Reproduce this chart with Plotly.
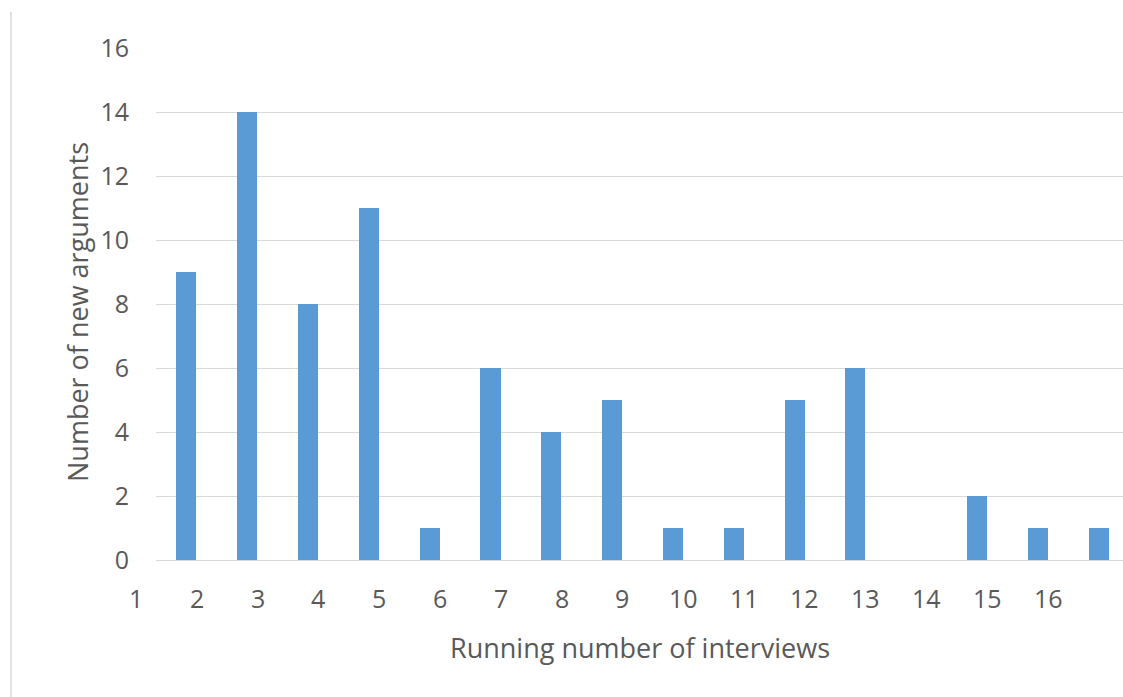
import plotly.graph_objects as go

# Interviews 2..17 and the count of new arguments raised in each
interviews = list(range(2, 18))
new_arguments = [9, 14, 8, 11, 1, 6, 4, 5, 1, 1, 5, 6, 0, 2, 1, 1]

# Category labels printed under the axis
x_labels = [str(i) for i in range(1, 17)]
y_ticks = list(range(0, 17, 2))

FONT = "Open Sans"
TEXT_GREY = "#595959"
GRID_GREY = "#d9d9d9"
BAR_BLUE = "#5b9bd5"
FONT_SIZE = 25
TITLE_SIZE = 27

W, H = 1123, 697
ML, MR, MT, MB = 156, 0, 48, 137
plot_w = W - ML - MR
X_RANGE = [1.5, 17.4]

fig = go.Figure()
fig.add_trace(go.Bar(
    x=interviews,
    y=new_arguments,
    width=0.33,
    marker=dict(color=BAR_BLUE, line=dict(width=0)),
    hoverinfo="x+y",
))


def to_paper(xv):
    return (xv - X_RANGE[0]) / (X_RANGE[1] - X_RANGE[0])


# Category labels sit a little to the right of the bar before them;
# the first one falls left of the plot area, so place them in paper units
label_offset = 0.17
annotations = []
for i, lab in enumerate(x_labels):
    annotations.append(dict(
        x=to_paper(1 + i + label_offset), xref="paper",
        y=0, yref="paper", yshift=-38,
        text=lab, showarrow=False,
        xanchor="center", yanchor="middle",
        font=dict(family=FONT, size=FONT_SIZE, color=TEXT_GREY),
    ))

annotations.append(dict(
    x=0.5, xref="paper", y=0, yref="paper", yshift=-87,
    text="Running number of interviews", showarrow=False,
    xanchor="center", yanchor="middle",
    font=dict(family=FONT, size=TITLE_SIZE, color=TEXT_GREY),
))
annotations.append(dict(
    x=(77 - ML) / plot_w, xref="paper", y=0.5, yref="paper", yshift=-8,
    text="Number of new arguments", showarrow=False, textangle=-90,
    xanchor="center", yanchor="middle",
    font=dict(family=FONT, size=TITLE_SIZE, color=TEXT_GREY),
))

fig.update_layout(
    width=W, height=H,
    margin=dict(l=ML, r=MR, t=MT, b=MB, pad=0),
    paper_bgcolor="white", plot_bgcolor="white",
    showlegend=False,
    bargap=0,
    annotations=annotations,
    shapes=[dict(
        type="line", xref="paper", yref="paper",
        x0=(11 - ML) / plot_w, x1=(11 - ML) / plot_w,
        y0=-MB / (H - MT - MB), y1=1 + (MT - 12) / (H - MT - MB),
        line=dict(color=GRID_GREY, width=1.5),
    )],
    xaxis=dict(
        range=X_RANGE,
        showticklabels=False, showgrid=False, zeroline=False,
        showline=False, ticks="",
    ),
    yaxis=dict(
        range=[0, 16],
        tickvals=y_ticks,
        showgrid=True, gridcolor=GRID_GREY, gridwidth=1.2,
        zeroline=True, zerolinecolor=GRID_GREY, zerolinewidth=1.2,
        showline=False, ticks="",
        ticklabelstandoff=26,
        tickfont=dict(family=FONT, size=FONT_SIZE, color=TEXT_GREY),
    ),
)

fig.write_html("out.html")
